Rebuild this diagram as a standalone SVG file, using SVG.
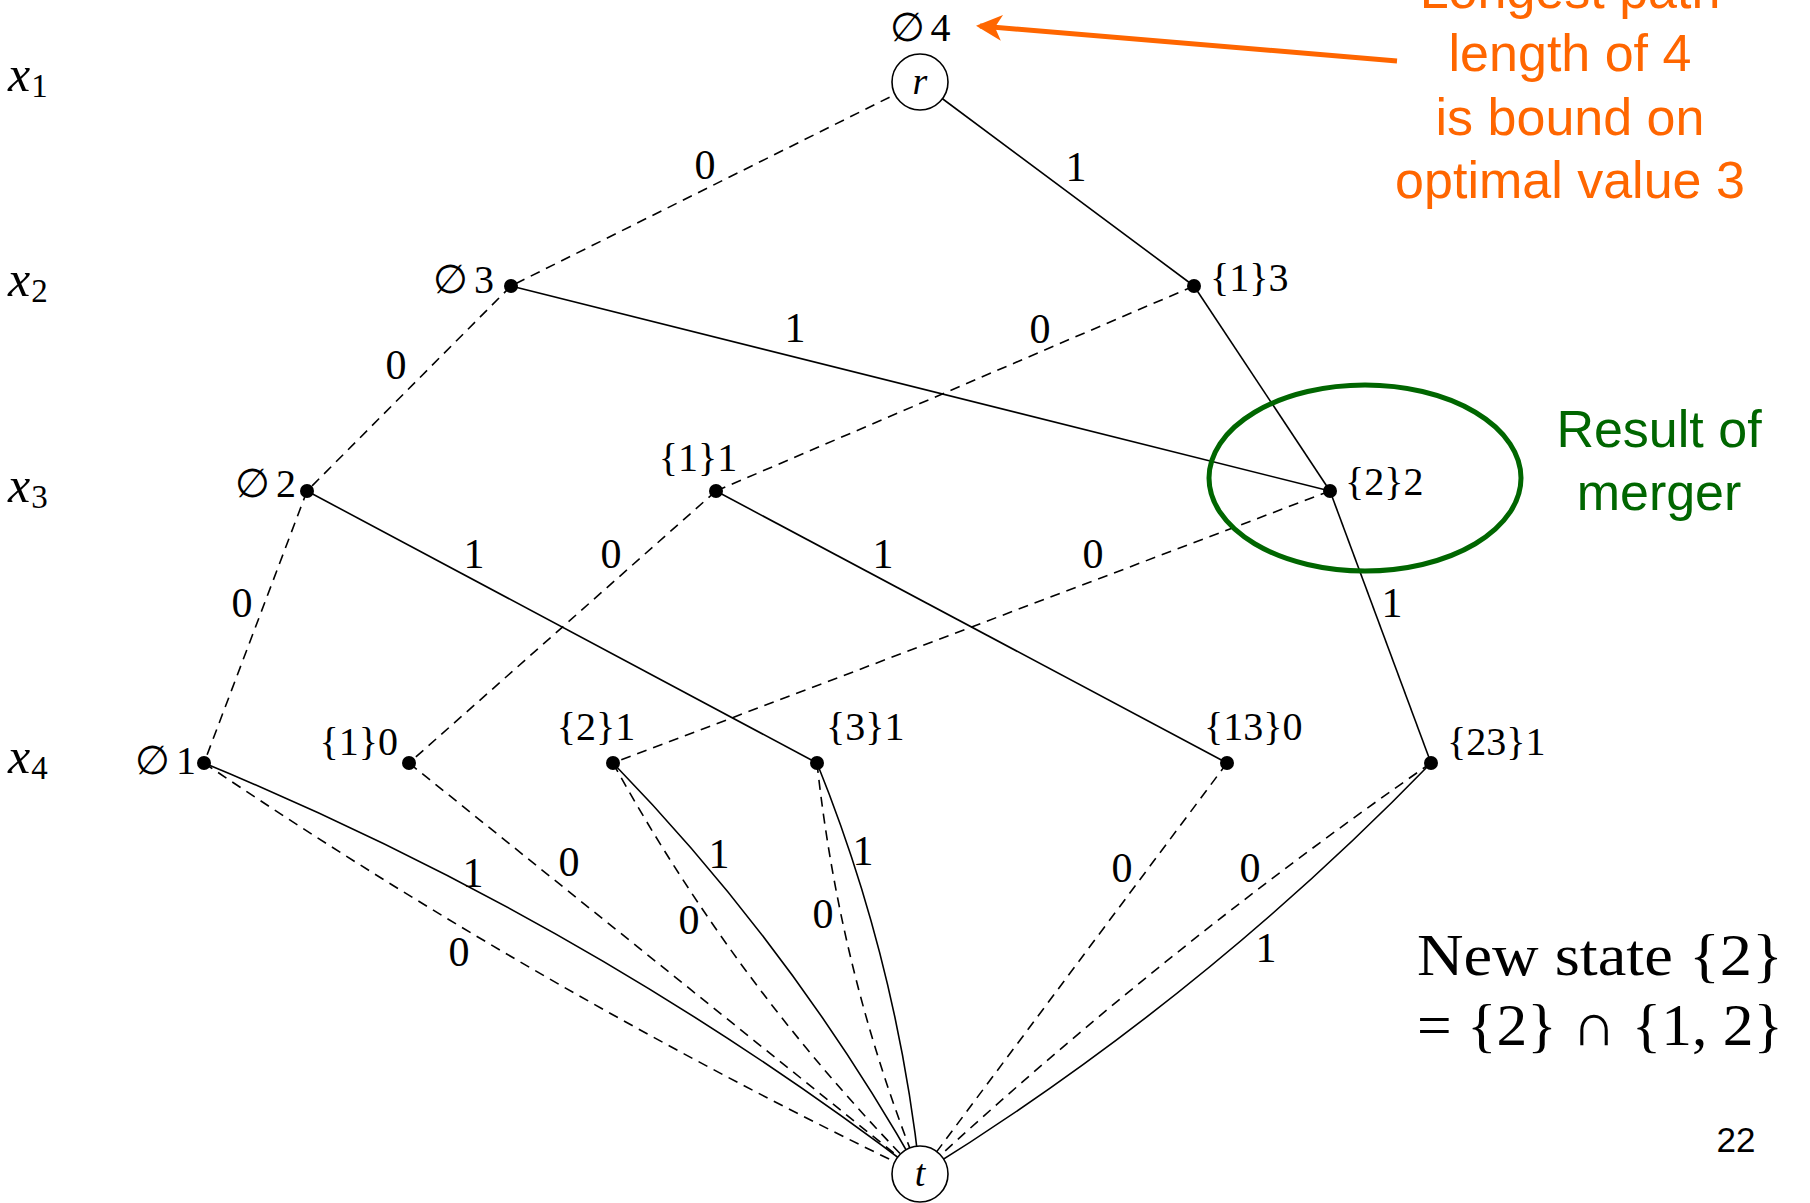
<svg xmlns="http://www.w3.org/2000/svg" width="1810" height="1203" viewBox="0 0 1810 1203">
  <style>
    .bg { fill: #ffffff; }
    .solid { fill: none; stroke: #000; stroke-width: 1.6; }
    .dash { fill: none; stroke: #000; stroke-width: 1.6; stroke-dasharray: 10 7; }
    .dot { fill: #000; }
    .term { fill: #fff; stroke: #000; stroke-width: 1.6; }
    .math { font-family: "Liberation Serif", "DejaVu Serif", serif; fill: #000; }
    .lbl { font-size: 40px; }
    .edge { font-size: 42px; text-anchor: middle; }
    .var { font-size: 50px; font-style: italic; }
    .sub { font-size: 33px; font-style: normal; }
    .note { font-family: "Liberation Sans", Arial, sans-serif; font-size: 52px; text-anchor: middle; }
    .orange { fill: #ff6600; }
    .green { fill: #006600; }
  </style>
  <defs>
    <marker id="orangeHead" markerUnits="userSpaceOnUse" orient="auto" refX="0" refY="0" markerWidth="40" markerHeight="40" overflow="visible">
      <path d="M4,0 L-22,-13 L-15,0 L-22,13 Z" fill="#ff6600"/>
    </marker>
  </defs>

  <rect class="bg" x="0" y="0" width="1810" height="1203"/>

  <!-- layer variables -->
  <g id="layer-labels" class="math">
    <text class="var" x="8" y="91">x<tspan class="sub" dx="1" dy="6">1</tspan></text>
    <text class="var" x="8" y="296">x<tspan class="sub" dx="1" dy="6">2</tspan></text>
    <text class="var" x="8" y="502">x<tspan class="sub" dx="1" dy="6">3</tspan></text>
    <text class="var" x="8" y="773">x<tspan class="sub" dx="1" dy="6">4</tspan></text>
  </g>

  <!-- arcs of the decision diagram -->
  <g id="connectors">
    <!-- x1 -> x2 -->
    <line class="dash" x1="920" y1="82" x2="511" y2="286"/>
    <line class="solid" x1="920" y1="82" x2="1194" y2="286"/>
    <!-- x2 -> x3 -->
    <line class="dash" x1="511" y1="286" x2="307" y2="491"/>
    <line class="solid" x1="511" y1="286" x2="1330" y2="491"/>
    <line class="dash" x1="1194" y1="286" x2="716" y2="491"/>
    <line class="solid" x1="1194" y1="286" x2="1330" y2="491"/>
    <!-- x3 -> x4 -->
    <line class="dash" x1="307" y1="491" x2="204" y2="763"/>
    <line class="solid" x1="307" y1="491" x2="817" y2="763"/>
    <line class="dash" x1="716" y1="491" x2="409" y2="763"/>
    <line class="solid" x1="716" y1="491" x2="1227" y2="763"/>
    <line class="dash" x1="1330" y1="491" x2="613" y2="763"/>
    <line class="solid" x1="1330" y1="491" x2="1431" y2="763"/>
    <!-- x4 -> terminal -->
    <path class="solid" d="M204,763 Q589,922 920,1174"/>
    <path class="dash" d="M204,763 Q547,995 920,1174"/>
    <line class="dash" x1="409" y1="763" x2="920" y2="1174"/>
    <path class="solid" d="M613,763 Q793,948 920,1174"/>
    <path class="dash" d="M613,763 Q738,990 920,1174"/>
    <path class="solid" d="M817,763 Q897,961 920,1174"/>
    <path class="dash" d="M817,763 Q840,976 920,1174"/>
    <line class="dash" x1="1227" y1="763" x2="920" y2="1174"/>
    <path class="solid" d="M1431,763 Q1201,1000 920,1174"/>
    <path class="dash" d="M1431,763 Q1161,951 920,1174"/>
  </g>

  <!-- arc values -->
  <g id="arc-labels" class="math edge">
    <text x="705" y="179">0</text>
    <text x="1076" y="181">1</text>
    <text x="396" y="379">0</text>
    <text x="795" y="342">1</text>
    <text x="1040" y="343">0</text>
    <text x="242" y="617">0</text>
    <text x="474" y="568">1</text>
    <text x="611" y="568">0</text>
    <text x="883" y="568">1</text>
    <text x="1093" y="568">0</text>
    <text x="1392" y="617">1</text>
    <text x="473" y="887">1</text>
    <text x="459" y="966">0</text>
    <text x="569" y="876">0</text>
    <text x="719" y="868">1</text>
    <text x="689" y="934">0</text>
    <text x="863" y="865">1</text>
    <text x="823" y="928">0</text>
    <text x="1122" y="882">0</text>
    <text x="1250" y="882">0</text>
    <text x="1266" y="962">1</text>
  </g>

  <!-- nodes -->
  <g id="node-r">
    <circle class="term" cx="920" cy="82" r="28"/>
    <text class="math" x="920" y="94" font-size="38" font-style="italic" text-anchor="middle">r</text>
    <text class="math lbl" x="920" y="41" text-anchor="middle">∅<tspan dx="6">4</tspan></text>
  </g>
  <g id="node-empty3">
    <circle class="dot" cx="511" cy="286" r="7"/>
    <text class="math lbl" x="494" y="293" text-anchor="end">∅<tspan dx="6">3</tspan></text>
  </g>
  <g id="node-1-3">
    <circle class="dot" cx="1194" cy="286" r="7"/>
    <text class="math lbl" x="1210" y="291">{1}3</text>
  </g>
  <g id="node-empty2">
    <circle class="dot" cx="307" cy="491" r="7"/>
    <text class="math lbl" x="296" y="497" text-anchor="end">∅<tspan dx="6">2</tspan></text>
  </g>
  <g id="node-1-1">
    <circle class="dot" cx="716" cy="491" r="7"/>
    <text class="math lbl" x="698" y="471" text-anchor="middle">{1}1</text>
  </g>
  <g id="node-2-2">
    <circle class="dot" cx="1330" cy="491" r="7"/>
    <text class="math lbl" x="1345" y="495">{2}2</text>
  </g>
  <g id="node-empty1">
    <circle class="dot" cx="204" cy="763" r="7"/>
    <text class="math lbl" x="196" y="774" text-anchor="end">∅<tspan dx="6">1</tspan></text>
  </g>
  <g id="node-1-0">
    <circle class="dot" cx="409" cy="763" r="7"/>
    <text class="math lbl" x="398" y="755" text-anchor="end">{1}0</text>
  </g>
  <g id="node-2-1">
    <circle class="dot" cx="613" cy="763" r="7"/>
    <text class="math lbl" x="596" y="740" text-anchor="middle">{2}1</text>
  </g>
  <g id="node-3-1">
    <circle class="dot" cx="817" cy="763" r="7"/>
    <text class="math lbl" x="826" y="740">{3}1</text>
  </g>
  <g id="node-13-0">
    <circle class="dot" cx="1227" cy="763" r="7"/>
    <text class="math lbl" x="1204" y="740">{13}0</text>
  </g>
  <g id="node-23-1">
    <circle class="dot" cx="1431" cy="763" r="7"/>
    <text class="math lbl" x="1447" y="755">{23}1</text>
  </g>
  <g id="node-t">
    <circle class="term" cx="920" cy="1174" r="28"/>
    <text class="math" x="920" y="1186" font-size="38" font-style="italic" text-anchor="middle">t</text>
  </g>

  <!-- bound annotation -->
  <g id="bound-note">
    <line x1="1397" y1="61" x2="980" y2="26" stroke="#ff6600" stroke-width="5" marker-end="url(#orangeHead)"/>
    <text class="note orange" x="1570" y="8">Longest path</text>
    <text class="note orange" x="1570" y="71">length of 4</text>
    <text class="note orange" x="1570" y="135">is bound on</text>
    <text class="note orange" x="1570" y="198">optimal value 3</text>
  </g>

  <!-- merged state highlight -->
  <g id="merge-note">
    <ellipse cx="1365" cy="478" rx="156" ry="93" fill="none" stroke="#006600" stroke-width="5"/>
    <text class="note green" x="1659" y="447">Result of</text>
    <text class="note green" x="1659" y="510">merger</text>
  </g>

  <!-- state formula -->
  <g id="state-note" class="math" font-size="60">
    <text x="1417" y="975" textLength="366" lengthAdjust="spacingAndGlyphs">New state {2}</text>
    <text x="1417" y="1045" textLength="366" lengthAdjust="spacingAndGlyphs">= {2} ∩ {1, 2}</text>
  </g>

  <text id="page-number" x="1736" y="1152" font-family="Liberation Sans, Arial, sans-serif" font-size="35" text-anchor="middle">22</text>
</svg>
